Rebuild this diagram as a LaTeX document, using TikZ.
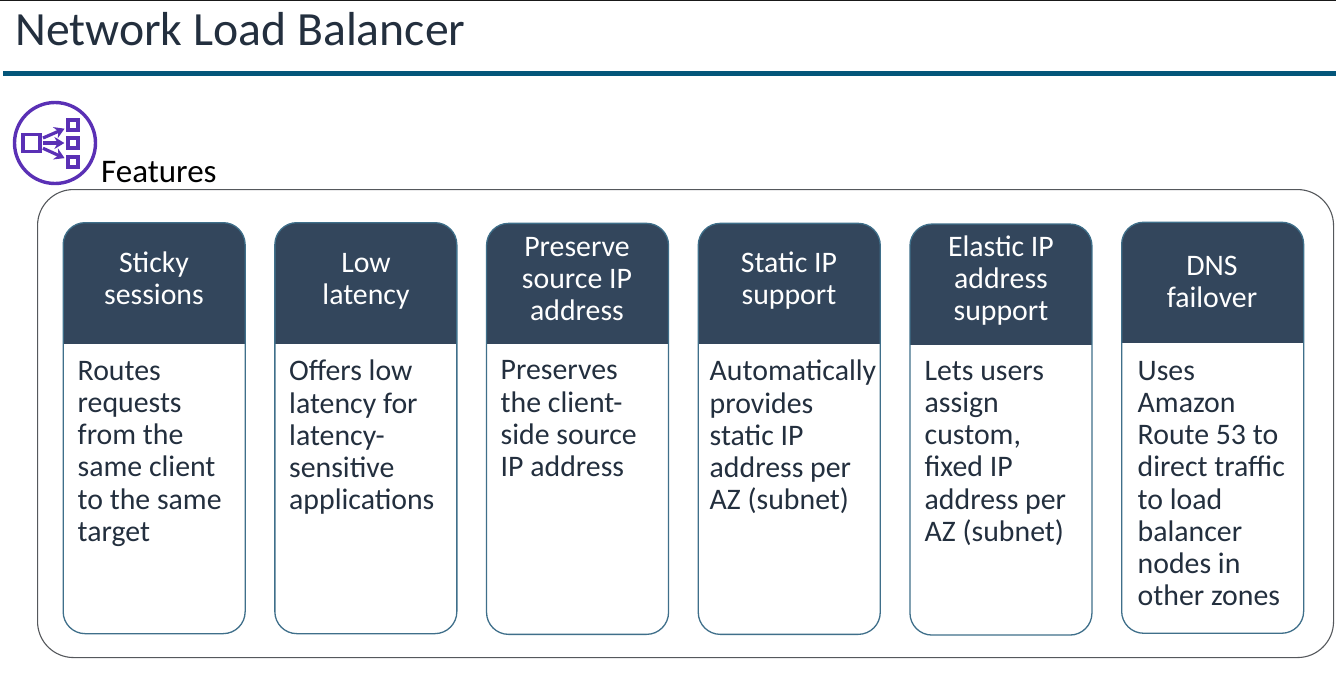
\documentclass[tikz,border=0pt]{standalone}
\usepackage{fontspec}
\setmainfont{Carlito}
\usetikzlibrary{arrows.meta,positioning}
\definecolor{SlideInk}{HTML}{232F3E}
\definecolor{SlideRule}{HTML}{04567A}
\definecolor{CardHead}{HTML}{33465C}
\definecolor{CardEdge}{HTML}{3F6F8A}
\definecolor{FrameEdge}{HTML}{55585C}
\definecolor{IconPurple}{HTML}{5A30B5}

\begin{document}
\begin{tikzpicture}[
    x=1pt, y=1pt,
    card/.style={
      rounded corners=22pt,
      draw=CardEdge,
      line width=1.3pt,
      fill=white,
      minimum width=182pt,
      minimum height=411pt,
      inner sep=0pt,
      anchor=north west,
      path picture={\fill[CardHead, sharp corners] (path picture bounding box.north west) rectangle ++(182pt,-121pt);}
    },
    headtext/.style={
      text=white,
      align=flush center,
      text width=178pt,
      inner sep=0pt,
      font=\fontsize{29.8}{32}\selectfont
    },
    bodytext/.style={
      text=SlideInk,
      align=flush left,
      text width=172pt,
      inner sep=0pt,
      anchor=north west,
      font=\fontsize{29.8}{32.2}\selectfont
    },
    unit/.style={draw=IconPurple, line width=3.2pt, inner sep=0pt, minimum size=10pt},
    flow/.style={-{Stealth[length=10pt,width=12pt]}, draw=IconPurple, line width=3.2pt, shorten <=1.5pt, shorten >=2pt}
  ]
    \useasboundingbox (0,0) rectangle (1336,-677);
    \draw[black!90, line width=1.4pt] (0,-0.5) -- (1336,-0.5);
    \node[anchor=west, inner sep=0pt, text=SlideInk, font=\fontsize{47.7}{50}\selectfont] (title) at (15,-29) {Network Load Balancer};
    \fill[SlideRule] (3,-71) rectangle (1336,-76.5);

    % icon
    \node[circle, draw=IconPurple, line width=3.4pt, minimum size=81pt, inner sep=0pt] (icon) at (55,-143) {};
    \node[unit, minimum size=17pt] (lbsrc) at (31.5,-143) {};
    \node[unit] (lbtop) at (73,-125) {};
    \node[unit] (lbmid) at (73,-143) {};
    \node[unit] (lblow) at (73,-162) {};
    \draw[flow] (lbsrc) -- (lbtop);
    \draw[flow] (lbsrc) -- (lbmid);
    \draw[flow] (lbsrc) -- (lblow);

    \node[anchor=base west, inner sep=0pt, text=black, font=\fontsize{33}{36}\selectfont] (features) at (101,-182) {Features};
    \node[draw=FrameEdge, line width=1.1pt, rounded corners=36pt, minimum width=1296pt, minimum height=468pt, anchor=north west] (frame) at (37,-189) {};

    \node[card] (sticky) at (62.5,-222) {};
    \node[card, right=28.4pt of sticky] (latency) {};
    \node[card, right=28.4pt of latency, yshift=-0.7pt] (source) {};
    \node[card, right=28.4pt of source] (static) {};
    \node[card, right=28.4pt of static, yshift=-0.7pt] (elastic) {};
    \node[card, right=28.4pt of elastic, yshift=1.8pt] (dns) {};

    \node[headtext] (stickyhead) at (154,-278) {Sticky\\sessions};
    \node[headtext] (latencyhead) at (366,-281) {Low\\latency};
    \node[headtext] (sourcehead) at (577,-279) {Preserve\\source IP\\address};
    \node[headtext] (statichead) at (789,-281) {Static IP\\support};
    \node[headtext] (elastichead) at (1001,-281) {Elastic IP\\address\\support};
    \node[headtext] (dnshead) at (1212,-282) {DNS\\failover};

    \node[bodytext] (stickybody) at (77.5,-361) {Routes\\requests\\from the\\same client\\to the same\\target};
    \node[bodytext] (latencybody) at (289,-360) {Offers low\\latency for\\latency-\\sensitive\\applications};
    \node[bodytext] (sourcebody) at (500.5,-360.5) {Preserves\\the client-\\side source\\IP address};
    \node[bodytext] (staticbody) at (709.5,-360) {Automatically\\provides\\static IP\\address per\\AZ (subnet)};
    \node[bodytext] (elasticbody) at (924.5,-361) {Lets users\\assign\\custom,\\fixed IP\\address per\\AZ (subnet)};
    \node[bodytext] (dnsbody) at (1137.5,-361) {Uses\\Amazon\\Route 53 to\\direct traffic\\to load\\balancer\\nodes in\\other zones};
  \end{tikzpicture}
\end{document}
